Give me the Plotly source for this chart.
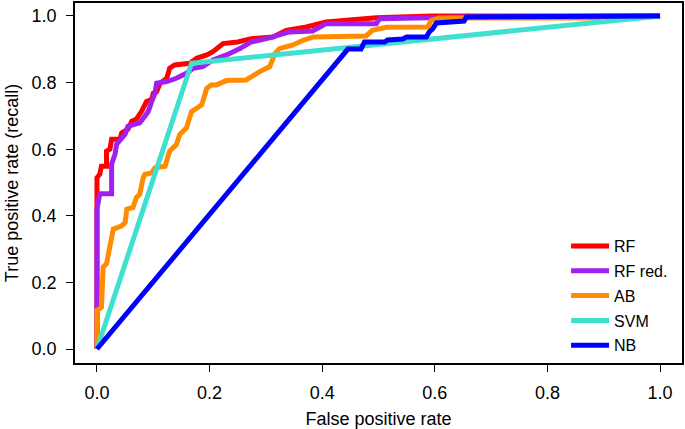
import plotly.graph_objects as go

# ---- data ----
rf_fpr = [0.0, 0.0, 0.005, 0.008, 0.017, 0.017, 0.023, 0.026, 0.041, 0.044, 0.055, 0.062, 0.070,
          0.079, 0.088, 0.097, 0.100, 0.106, 0.112, 0.124, 0.129, 0.138, 0.165, 0.177, 0.195,
          0.206, 0.224, 0.250, 0.274, 0.313, 0.336, 0.372, 0.407, 0.449, 0.496, 0.596, 1.0]
rf_tpr = [0.0, 0.514, 0.525, 0.549, 0.549, 0.594, 0.600, 0.630, 0.630, 0.649, 0.660, 0.684, 0.690,
          0.713, 0.743, 0.749, 0.768, 0.773, 0.798, 0.813, 0.843, 0.853, 0.858, 0.873, 0.883,
          0.893, 0.917, 0.922, 0.932, 0.937, 0.957, 0.967, 0.982, 0.987, 0.995, 1.0, 1.0]

rfred_fpr = [0.0, 0.0, 0.0, 0.005, 0.026, 0.026, 0.032, 0.035, 0.044, 0.050, 0.055, 0.076, 0.085,
             0.091, 0.097, 0.103, 0.106, 0.124, 0.141, 0.159, 0.171, 0.188, 0.206, 0.230, 0.254,
             0.274, 0.301, 0.342, 0.383, 0.407, 0.496, 0.502, 0.656, 1.0]
rfred_tpr = [0.0, 0.126, 0.421, 0.466, 0.466, 0.555, 0.585, 0.615, 0.630, 0.645, 0.669, 0.679, 0.699,
             0.713, 0.743, 0.768, 0.798, 0.803, 0.813, 0.828, 0.843, 0.848, 0.868, 0.883, 0.902,
             0.922, 0.932, 0.952, 0.955, 0.977, 0.977, 0.992, 0.997, 1.0]

ab_fpr = [0.0, 0.0, 0.008, 0.011, 0.017, 0.023, 0.029, 0.044, 0.050, 0.053, 0.064, 0.070, 0.076,
          0.082, 0.085, 0.097, 0.103, 0.121, 0.126, 0.129, 0.141, 0.147, 0.159, 0.168, 0.177,
          0.186, 0.195, 0.203, 0.212, 0.230, 0.265, 0.274, 0.289, 0.307, 0.316, 0.324, 0.348,
          0.366, 0.384, 0.478, 0.489, 0.514, 0.587, 0.594, 0.608, 0.892, 0.897, 1.0]
ab_tpr = [0.0, 0.116, 0.125, 0.246, 0.256, 0.305, 0.360, 0.370, 0.380, 0.420, 0.425, 0.455, 0.465,
          0.514, 0.524, 0.529, 0.544, 0.549, 0.584, 0.594, 0.614, 0.644, 0.664, 0.713, 0.723,
          0.733, 0.783, 0.793, 0.793, 0.806, 0.808, 0.818, 0.833, 0.848, 0.887, 0.902, 0.913,
          0.927, 0.937, 0.940, 0.957, 0.966, 0.967, 0.987, 0.994, 0.994, 1.0, 1.0]

svm_fpr = [0.0, 0.168, 1.0]
svm_tpr = [0.0, 0.858, 1.0]

nb_fpr = [0.0, 0.4456, 0.469, 0.475, 0.511, 0.516, 0.543, 0.550, 0.585, 0.590, 0.596, 0.603,
          0.652, 0.656, 1.0]
nb_tpr = [0.0, 0.9006, 0.901, 0.922, 0.922, 0.928, 0.931, 0.937, 0.937, 0.952, 0.961, 0.979,
          0.985, 0.997, 1.0]

names = ["RF", "RF red.", "AB", "SVM", "NB"]
colors = ["#FF0000", "#A020F0", "#FF8C00", "#40E0D0", "#0000FF"]
series = [(rf_fpr, rf_tpr), (rfred_fpr, rfred_tpr), (ab_fpr, ab_tpr),
          (svm_fpr, svm_tpr), (nb_fpr, nb_tpr)]

ticks = [0.0, 0.2, 0.4, 0.6, 0.8, 1.0]
tick_text = ["0.0", "0.2", "0.4", "0.6", "0.8", "1.0"]

FONT = "Liberation Sans, Arial, Helvetica, sans-serif"

fig = go.Figure()
for name, col, (x, y) in zip(names, colors, series):
    fig.add_trace(go.Scatter(x=x, y=y, mode="lines", name=name, legendgroup=name,
                             line=dict(color=col, width=5)))

axis_common = dict(
    tickmode="array", tickvals=ticks, ticktext=tick_text,
    showgrid=False, zeroline=False,
    showline=True, linecolor="black", linewidth=1.5, mirror=True,
    ticks="outside", ticklen=7, tickwidth=1.3, tickcolor="black",
    tickfont=dict(family=FONT, size=18, color="black"),
)

fig.update_layout(
    width=685, height=429,
    margin=dict(l=75, r=2, t=1, b=66),
    paper_bgcolor="white", plot_bgcolor="white",
    font=dict(family=FONT, color="black"),
    xaxis=dict(range=[-0.039, 1.039], title=dict(text="False positive rate",
               font=dict(family=FONT, size=18), standoff=12),
               ticklabelstandoff=6, **axis_common),
    yaxis=dict(range=[-0.042, 1.039], title=dict(text="True positive rate (recall)",
               font=dict(family=FONT, size=18), standoff=8),
               ticklabelstandoff=6, **axis_common),
    legend=dict(x=0.809, y=0.372, xanchor="left", yanchor="top",
                bgcolor="rgba(0,0,0,0)", borderwidth=0,
                font=dict(family=FONT, size=16, color="black"),
                itemwidth=38, tracegroupgap=1),
    showlegend=True,
)

fig.write_html("out.html", config={"displayModeBar": False},
               post_script="document.body.style.margin='0px';document.body.style.padding='0px';")
